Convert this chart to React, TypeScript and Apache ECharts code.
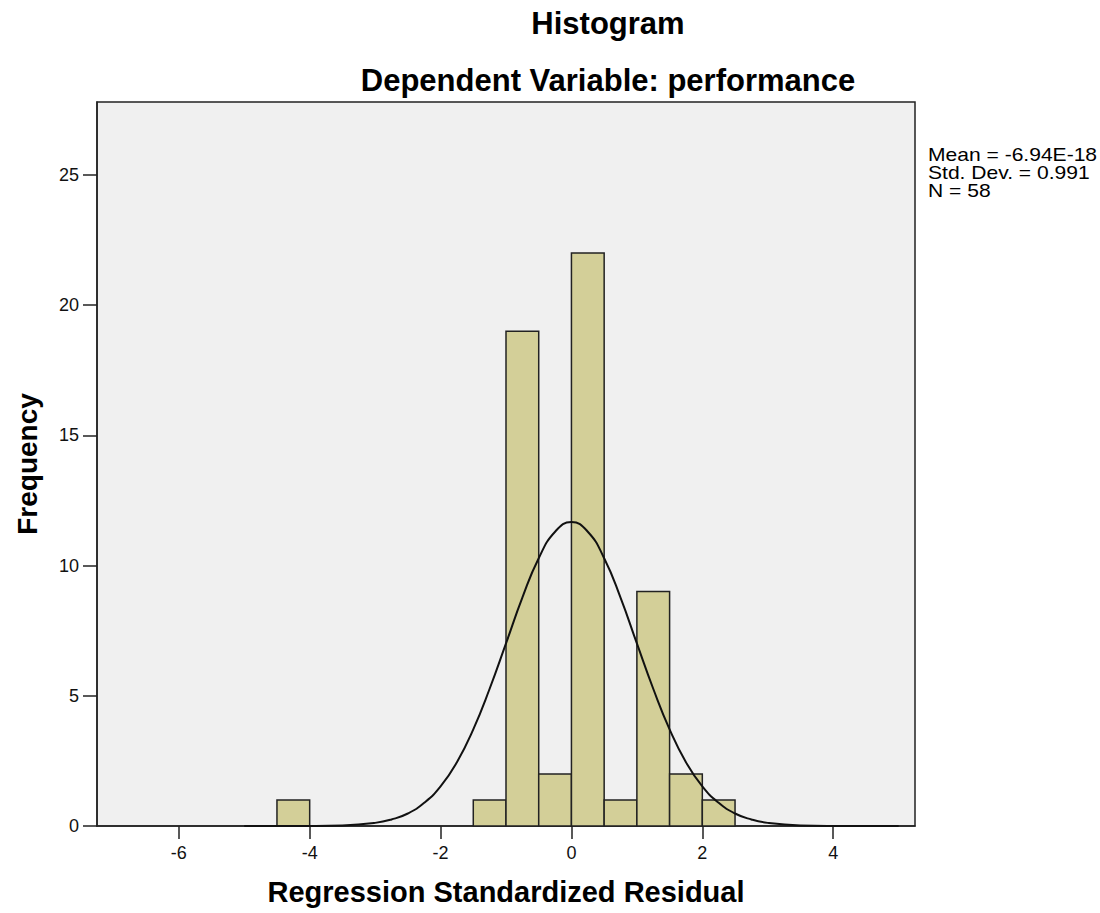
import React, { useEffect, useRef } from "react";
import * as echarts from "echarts";

const binStarts = [-4.5, -1.5, -1.0, -0.5, 0.0, 0.5, 1.0, 1.5, 2.0];
const binWidth = 0.5;
const frequencies = [1, 1, 19, 2, 22, 1, 9, 2, 1];

const curveX = [-5, -4.5, -4, -3.5, -3, -2.75, -2.5, -2.25, -2, -1.75, -1.5, -1.25, -1, -0.75, -0.5, -0.25, 0, 0.25, 0.5, 0.75, 1, 1.25, 1.5, 1.75, 2, 2.25, 2.5, 2.75, 3, 3.5, 4, 4.5, 5];
const curveY = [0, 0, 0.003, 0.023, 0.12, 0.25, 0.48, 0.89, 1.52, 2.45, 3.71, 5.27, 7.01, 8.77, 10.28, 11.3, 11.67, 11.3, 10.28, 8.77, 7.01, 5.27, 3.71, 2.45, 1.52, 0.89, 0.48, 0.25, 0.12, 0.023, 0.003, 0, 0];

const xTicks = [-6, -4, -2, 0, 2, 4];
const yTicks = [0, 5, 10, 15, 20, 25];
const statsLines = ["Mean = -6.94E-18", "Std. Dev. = 0.991", "N = 58"];

const FONT = "Liberation Sans, Arial, sans-serif";

export default function App() {
  const ref = useRef<HTMLDivElement>(null);
  useEffect(() => {
    if (!ref.current) return;
    const chart = echarts.init(ref.current, null, { renderer: "svg" });
    const barData = binStarts.map((s, i) => [s, s + binWidth, frequencies[i]]);
    chart.setOption({
      animation: false,
      backgroundColor: "#ffffff",
      textStyle: { fontFamily: FONT },
      grid: {
        left: 97,
        right: 185,
        top: 102,
        bottom: 87,
        outerBoundsMode: "none",
        containLabel: false,
        show: true,
        backgroundColor: "#F0F0F0",
        borderColor: "#222",
        borderWidth: 1.5,
      },
      xAxis: {
        type: "value",
        min: -7.25,
        max: 5.25,
        name: "Regression Standardized Residual",
        nameLocation: "middle",
        nameGap: 51,
        nameMoveOverlap: false,
        nameTextStyle: { fontFamily: FONT, fontSize: 29, fontWeight: "bold", color: "#000" },
        splitLine: { show: false },
        axisLine: { show: true, onZero: false, lineStyle: { color: "#222", width: 1.5 } },
        axisTick: { show: true, length: 13, customValues: xTicks, lineStyle: { color: "#222", width: 1.5 } },
        axisLabel: { customValues: xTicks, fontFamily: FONT, fontSize: 18, color: "#111", margin: 18 },
      },
      yAxis: {
        type: "value",
        min: 0,
        max: 27.8,
        name: "Frequency",
        nameLocation: "middle",
        nameGap: 56,
        nameMoveOverlap: false,
        nameTextStyle: { fontFamily: FONT, fontSize: 28, fontWeight: "bold", color: "#000" },
        splitLine: { show: false },
        axisLine: { show: true, onZero: false, lineStyle: { color: "#222", width: 1.5 } },
        axisTick: { show: true, length: 14, customValues: yTicks, lineStyle: { color: "#222", width: 1.5 } },
        axisLabel: { customValues: yTicks, fontFamily: FONT, fontSize: 18, color: "#111", margin: 18 },
      },
      title: [
        {
          text: "Histogram",
          left: 603,
          top: 3,
          textAlign: "center",
          textStyle: { fontFamily: FONT, fontSize: 31, fontWeight: "bold", color: "#000" },
        },
        {
          text: "Dependent Variable: performance",
          left: 603,
          top: 60,
          textAlign: "center",
          textStyle: { fontFamily: FONT, fontSize: 31, fontWeight: "bold", color: "#000" },
        },
      ],
      graphic: statsLines.map((t, i) => ({
        type: "text",
        x: 928,
        y: 146 + i * 18,
        scaleX: 1.17,
        style: { text: t, font: `18px ${FONT}`, fill: "#000" },
      })),
      series: [
        {
          type: "custom",
          data: barData,
          encode: { x: [0, 1], y: 2 },
          renderItem: (params: any, api: any) => {
            const p0 = api.coord([api.value(0), api.value(2)]);
            const p1 = api.coord([api.value(1), 0]);
            return {
              type: "rect",
              shape: { x: p0[0], y: p0[1], width: p1[0] - p0[0], height: p1[1] - p0[1] },
              style: { fill: "#D3CF98", stroke: "#222", lineWidth: 1.5 },
            };
          },
          z: 2,
        },
        {
          type: "line",
          data: curveX.map((x, i) => [x, curveY[i]]),
          smooth: true,
          showSymbol: false,
          lineStyle: { color: "#111", width: 2 },
          z: 3,
        },
      ],
    });
    return () => chart.dispose();
  }, []);
  return (
    <div
      ref={ref}
      style={{ position: "fixed", left: 0, top: 0, width: 1100, height: 913 }}
    />
  );
}
